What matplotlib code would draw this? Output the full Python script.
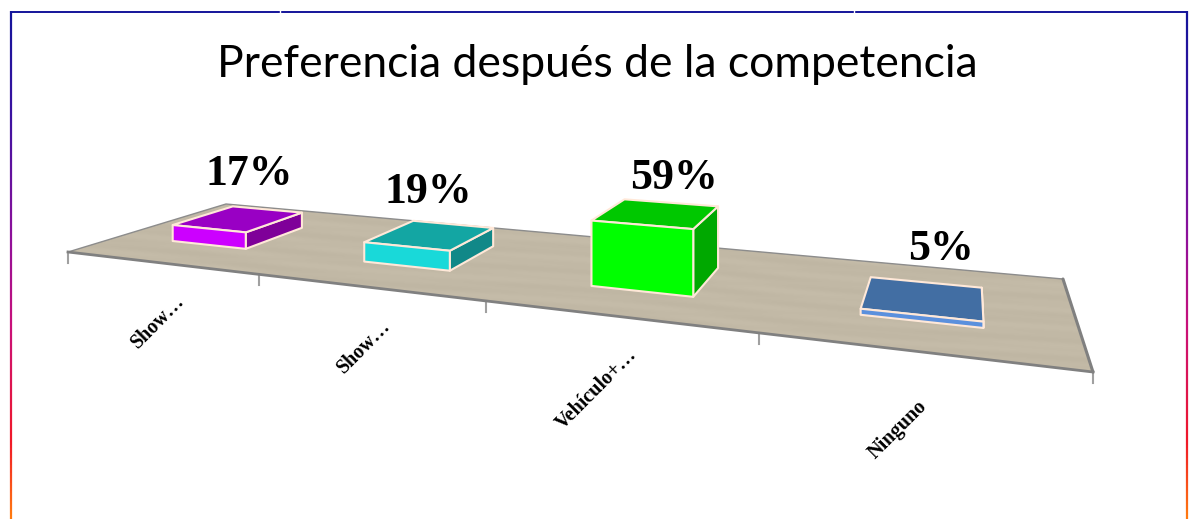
import numpy as np
import matplotlib
matplotlib.use('Agg')
import matplotlib.pyplot as plt
from matplotlib.collections import LineCollection
from matplotlib.colors import LinearSegmentedColormap
from matplotlib.patches import Polygon

# datos de la encuesta
categorias = ['Show…', 'Show…', 'Vehículo+…', 'Ninguno']
valores = [17, 19, 59, 5]
etiquetas = ['17%', '19%', '59%', '5%']
titulo = 'Preferencia después de la competencia'

col_frente = ['#CC00FF', '#19D9D9', '#00FF00', '#5B90DD']
col_arriba = ['#9900C4', '#13A6A3', '#00C800', '#426EA3']
col_lado = ['#7F0099', '#118888', '#00A800', '#426EA3']

# desplazamiento de los textos y de las barras
offset_valor = [(9, -45), (-4, -43), (17, -35), (18, -49)]
offset_cat = [(-2, 59), (-4, 60), (-19, 73), (-19, 78)]
corrimiento = [-0.002, -0.002, 0, 0]

ANCHO = 1193
ALTO = 519

# esquinas del piso en pixeles
P00 = (68, 252)
P10 = (1093, 372)
P11 = (1063, 279)
P01 = (226, 204)


def homografia(p00, p10, p11, p01):
    dx1 = np.array(p10) - np.array(p11)
    dx2 = np.array(p01) - np.array(p11)
    s = np.array(p00) - np.array(p10) + np.array(p11) - np.array(p01)
    g, h = np.linalg.solve(np.array([dx1, dx2]).T, s)
    return np.array([[p10[0] - p00[0] + g * p10[0], p01[0] - p00[0] + h * p01[0], p00[0]],
                     [p10[1] - p00[1] + g * p10[1], p01[1] - p00[1] + h * p01[1], p00[1]],
                     [g, h, 1.0]])


H = homografia(P00, P10, P11, P01)
ESCALA_Z = 0.98


def proy(u, v, z=0):
    # u: eje de categorias, v: profundidad, z: valor
    x, y, w = H @ np.array([u, v, 1.0])
    return x / w, y / w - ESCALA_Z * z / w


fig = plt.figure(figsize=(ANCHO / 100, ALTO / 100), dpi=100)
ax = fig.add_axes([0, 0, 1, 1])
ax.axis('off')

# marco con degradado
cmap = LinearSegmentedColormap.from_list('marco', [(0, '#14149A'), (0.2, '#3A12A0'), (0.45, '#90109A'),
                                                   (0.62, '#C8107A'), (0.85, '#F01828'), (1, '#FF7A10')])
for xb in [10.5, 1186.5]:
    ys = np.linspace(11, ALTO, 200)
    pts = np.column_stack([np.full_like(ys, xb), ys]).reshape(-1, 1, 2)
    segs = np.concatenate([pts[:-1], pts[1:]], axis=1)
    lc = LineCollection(segs, cmap=cmap, linewidths=1.6)
    lc.set_array(np.linspace(0, 1, 199))
    ax.add_collection(lc)
ax.plot([10, 1187], [11.5, 11.5], color='#14149A', lw=1.4, solid_capstyle='butt')
for xg in [279.5, 853.5]:
    ax.plot([xg, xg], [10, 13], color='white', lw=1)

# piso con vetas suaves
piso = [proy(0, 0), proy(1, 0), proy(1, 1), proy(0, 1)]
xx, yy = np.meshgrid(np.arange(60, 1100), np.arange(200, 380))
eje = yy - 0.1 * xx
vetas = (np.sin(eje * 0.31 + np.sin(xx * 0.013) * 2.0) + 0.6 * np.sin(eje * 0.73 + xx * 0.021)) / 1.6
textura = np.stack([194 + 3 * vetas, 185 + 3 * vetas, 166 + 3 * vetas], axis=2).astype(np.uint8)
img = ax.imshow(textura, extent=(60, 1100, 380, 200), aspect='auto', zorder=1, interpolation='bilinear')
img.set_clip_path(Polygon(piso, closed=True, transform=ax.transData))
ax.set_xlim(0, ANCHO)
ax.set_ylim(ALTO, 0)

ax.plot(*zip(proy(0, 0), proy(0, 1), proy(1, 1)), color='#8C8C8C', lw=1.0, zorder=2)
ax.plot(*zip(proy(1, 1), proy(1, 0)), color='#808080', lw=2.2, zorder=2, solid_capstyle='round')
ax.plot(*zip(proy(0, 0), proy(1, 0)), color='#808080', lw=2.0, zorder=2)

# marcas del eje
for i in range(len(valores) + 1):
    x, y = proy(i / len(valores), 0)
    ax.plot([x, x], [y, y + 11], color='#A0A0A0', lw=1.5, zorder=1)

# barras
MEDIO = 0.05
V0, V1 = 0.3, 0.7
for i, val in enumerate(valores):
    uc = (i + 0.5) / len(valores)
    u0, u1 = uc - MEDIO + corrimiento[i], uc + MEDIO + corrimiento[i]
    borde = dict(edgecolor='#FFE8D8', lw=1.5, joinstyle='round', zorder=3)
    ax.add_patch(Polygon([proy(u1, V0), proy(u1, V1), proy(u1, V1, val), proy(u1, V0, val)],
                         facecolor=col_lado[i], **borde))
    ax.add_patch(Polygon([proy(u0, V0, val), proy(u1, V0, val), proy(u1, V1, val), proy(u0, V1, val)],
                         facecolor=col_arriba[i], **borde))
    ax.add_patch(Polygon([proy(u0, V0), proy(u1, V0), proy(u1, V0, val), proy(u0, V0, val)],
                         facecolor=col_frente[i], **borde))

    xt, yt = proy(uc, 0.5, val)
    ax.text(xt + offset_valor[i][0], yt + offset_valor[i][1], etiquetas[i], family='Liberation Serif',
            weight='bold', fontsize=31.5, ha='center', va='center', color='black', zorder=4)

    xc, yc = proy(uc, 0)
    ax.text(xc + offset_cat[i][0], yc + offset_cat[i][1], categorias[i], family='Liberation Serif',
            weight='bold', fontsize=14.5, rotation=45, rotation_mode='anchor',
            ha='center', va='center', color='black', zorder=4)

ax.text(597.5, 77, titulo, family='Lato', fontsize=32, ha='center', va='baseline', color='black')

fig.savefig('out.png', dpi=100)
